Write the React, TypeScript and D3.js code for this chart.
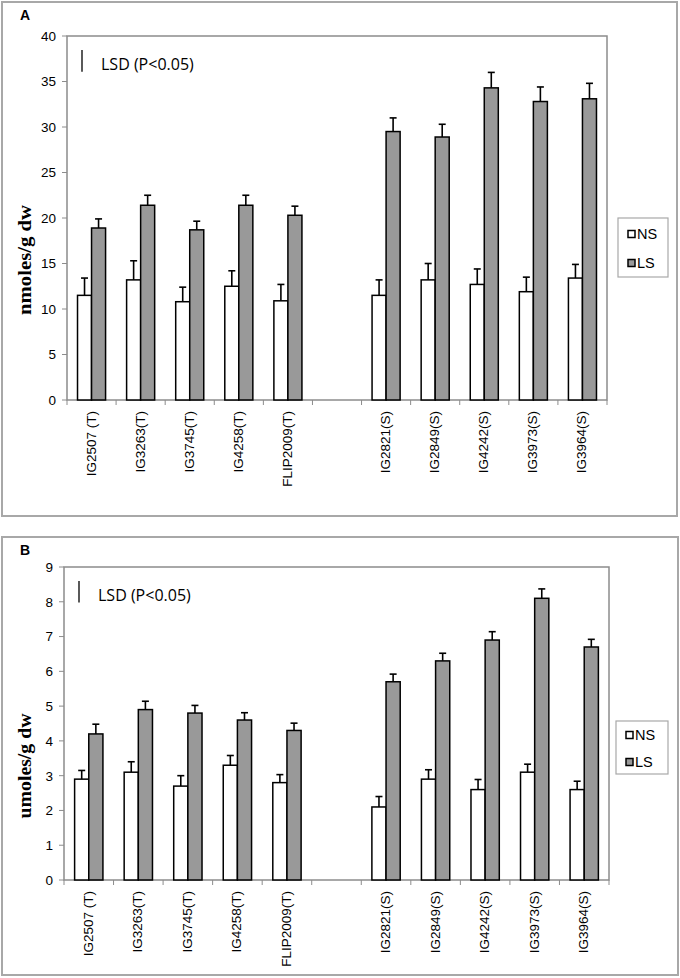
import React from 'react';
import * as d3 from 'd3';

// cultivar groups (T = tolerant, S = sensitive)
const tolerantLines = ["IG2507 (T)", "IG3263(T)", "IG3745(T)", "IG4258(T)", "FLIP2009(T)"];
const sensitiveLines = ["IG2821(S)", "IG2849(S)", "IG4242(S)", "IG3973(S)", "IG3964(S)"];
const seriesNames = ["NS", "LS"];

// panel A: nmoles/g dw
const nsA = [11.5, 13.2, 10.8, 12.5, 10.9, 11.5, 13.2, 12.7, 11.9, 13.4];
const nsErrA = [1.9, 2.1, 1.6, 1.7, 1.8, 1.7, 1.8, 1.7, 1.6, 1.5];
const lsA = [18.9, 21.4, 18.7, 21.4, 20.3, 29.5, 28.9, 34.3, 32.8, 33.1];
const lsErrA = [1.0, 1.1, 0.95, 1.1, 1.0, 1.5, 1.4, 1.7, 1.6, 1.7];
const ticksA = [0, 5, 10, 15, 20, 25, 30, 35, 40];

// panel B: umoles/g dw
const nsB = [2.9, 3.1, 2.7, 3.3, 2.8, 2.1, 2.9, 2.6, 3.1, 2.6];
const nsErrB = [0.25, 0.3, 0.3, 0.28, 0.23, 0.3, 0.27, 0.29, 0.23, 0.24];
const lsB = [4.2, 4.9, 4.8, 4.6, 4.3, 5.7, 6.3, 6.9, 8.1, 6.7];
const lsErrB = [0.28, 0.24, 0.22, 0.21, 0.21, 0.22, 0.22, 0.24, 0.27, 0.22];
const ticksB = [0, 1, 2, 3, 4, 5, 6, 7, 8, 9];

const lsdA = 2.4;
const lsdB = 0.62;

const GAP = "__gap__";
const slots = [...tolerantLines, GAP, ...sensitiveLines];
const lines = [...tolerantLines, ...sensitiveLines];

const SANS = "'Liberation Sans', Arial, sans-serif";

interface PanelProps {
  tag: string;
  frame: { x0: number; y0: number; x1: number; y1: number };
  plot: { left: number; right: number; top: number; bottom: number };
  yMax: number;
  ticks: number[];
  ns: number[];
  nsErr: number[];
  ls: number[];
  lsErr: number[];
  yLabel: string;
  yLabelLen: number;
  yLabelCenter: number;
  legend: { x: number; y: number; w: number; h: number; y1: number; y2: number };
  lsd: number;
}

const Panel: React.FC<PanelProps> = (p) => {
  const { plot, frame, legend } = p;
  const x = d3.scaleBand<string>().domain(slots).range([plot.left, plot.right]);
  const inner = d3.scaleBand<string>().domain(seriesNames).range([0, x.bandwidth()]).paddingOuter(0.75);
  const y = d3.scaleLinear().domain([0, p.yMax]).range([plot.bottom, plot.top]);
  const vals = [p.ns, p.ls];
  const errs = [p.nsErr, p.lsErr];
  const fills = ["#ffffff", "#999999"];
  const bw = inner.bandwidth();
  const bounds = slots.map((s) => x(s)!).concat([plot.right]);

  return (
    <g>
      <rect x={frame.x0} y={frame.y0} width={frame.x1 - frame.x0} height={frame.y1 - frame.y0}
        fill="#fff" stroke="#a8a8a8" strokeWidth={2} />
      <text x={20} y={frame.y0 + 18} fontFamily={SANS} fontWeight="bold" fontSize={14}>{p.tag}</text>

      <rect x={plot.left} y={plot.top} width={plot.right - plot.left} height={plot.bottom - plot.top}
        fill="none" stroke="#8c8c8c" strokeWidth={1.5} />

      {/* y axis ticks */}
      {p.ticks.map((t) => (
        <g key={t}>
          <line x1={plot.left - 5} x2={plot.left} y1={y(t)} y2={y(t)} stroke="#8c8c8c" />
          <text x={plot.left - 11} y={y(t)} dy="0.36em" textAnchor="end" fontFamily={SANS} fontSize={13.5}>{t}</text>
        </g>
      ))}

      {/* x axis ticks at slot boundaries */}
      {bounds.map((b, i) => (
        <line key={i} x1={b} x2={b} y1={plot.bottom} y2={plot.bottom + 5} stroke="#8c8c8c" />
      ))}
      {lines.map((c) => {
        const cx = x(c)! + x.bandwidth() / 2;
        return (
          <text key={c} transform={`translate(${cx + 4},${plot.bottom + 11}) rotate(-90)`}
            textAnchor="end" fontFamily={SANS} fontSize={13.5}>{c}</text>
        );
      })}

      {/* bars + error bars */}
      {seriesNames.map((s, si) =>
        lines.map((c, i) => {
          const bx = x(c)! + inner(s)!;
          const v = vals[si][i];
          const e = errs[si][i];
          const mx = bx + bw / 2;
          return (
            <g key={s + c}>
              <line x1={mx} x2={mx} y1={y(v)} y2={y(v + e)} stroke="#000" strokeWidth={1.6} />
              <line x1={mx - 3.5} x2={mx + 3.5} y1={y(v + e)} y2={y(v + e)} stroke="#000" strokeWidth={1.6} />
              <rect x={bx} y={y(v)} width={bw} height={plot.bottom - y(v)}
                fill={fills[si]} stroke="#000" strokeWidth={1.5} />
            </g>
          );
        })
      )}

      {/* LSD marker */}
      <line x1={plot.left + 15} x2={plot.left + 15} y1={y(p.yMax) + 14} y2={y(p.yMax) + 14 + (y(0) - y(p.lsd))}
        stroke="#000" strokeWidth={1.3} />
      <text x={plot.left + 34} y={y(p.yMax) + 34} fontFamily="'Open Sans', sans-serif" fontSize={16}>LSD (P&lt;0.05)</text>

      {/* y label */}
      <text transform={`translate(31,${p.yLabelCenter}) rotate(-90)`} textAnchor="middle"
        fontFamily="'Liberation Serif', 'Times New Roman', serif" fontWeight="bold" fontSize={19}
        textLength={p.yLabelLen} lengthAdjust="spacingAndGlyphs">{p.yLabel}</text>

      {/* legend */}
      <rect x={legend.x} y={legend.y} width={legend.w} height={legend.h} fill="#fff" stroke="#a8a8a8" strokeWidth={1.2} />
      {seriesNames.map((s, si) => {
        const ly = si === 0 ? legend.y1 : legend.y2;
        return (
          <g key={s}>
            <rect x={legend.x + 10} y={ly - 3.5} width={7} height={7} fill={fills[si]} stroke="#000" strokeWidth={1.5} />
            <text x={legend.x + 19} y={ly} dy="0.36em" fontFamily={SANS} fontSize={14.5}>{s}</text>
          </g>
        );
      })}
    </g>
  );
};

export default function App() {
  return (
    <svg width={680} height={978} style={{ position: 'absolute', left: 0, top: 0, background: '#fff' }}>
      <Panel tag="A" frame={{ x0: 2, y0: 2, x1: 677, y1: 516 }}
        plot={{ left: 67, right: 607, top: 36, bottom: 400 }}
        yMax={40} ticks={ticksA} ns={nsA} nsErr={nsErrA} ls={lsA} lsErr={lsErrA}
        yLabel="nmoles/g dw" yLabelLen={110} yLabelCenter={260}
        legend={{ x: 618, y: 218, w: 50, h: 59, y1: 234, y2: 263 }} lsd={lsdA} />
      <Panel tag="B" frame={{ x0: 2, y0: 537, x1: 678, y1: 975 }}
        plot={{ left: 64, right: 609, top: 567, bottom: 880 }}
        yMax={9} ticks={ticksB} ns={nsB} nsErr={nsErrB} ls={lsB} lsErr={lsErrB}
        yLabel="umoles/g dw" yLabelLen={105} yLabelCenter={766}
        legend={{ x: 616, y: 721, w: 52, h: 53, y1: 735, y2: 762 }} lsd={lsdB} />
    </svg>
  );
}
